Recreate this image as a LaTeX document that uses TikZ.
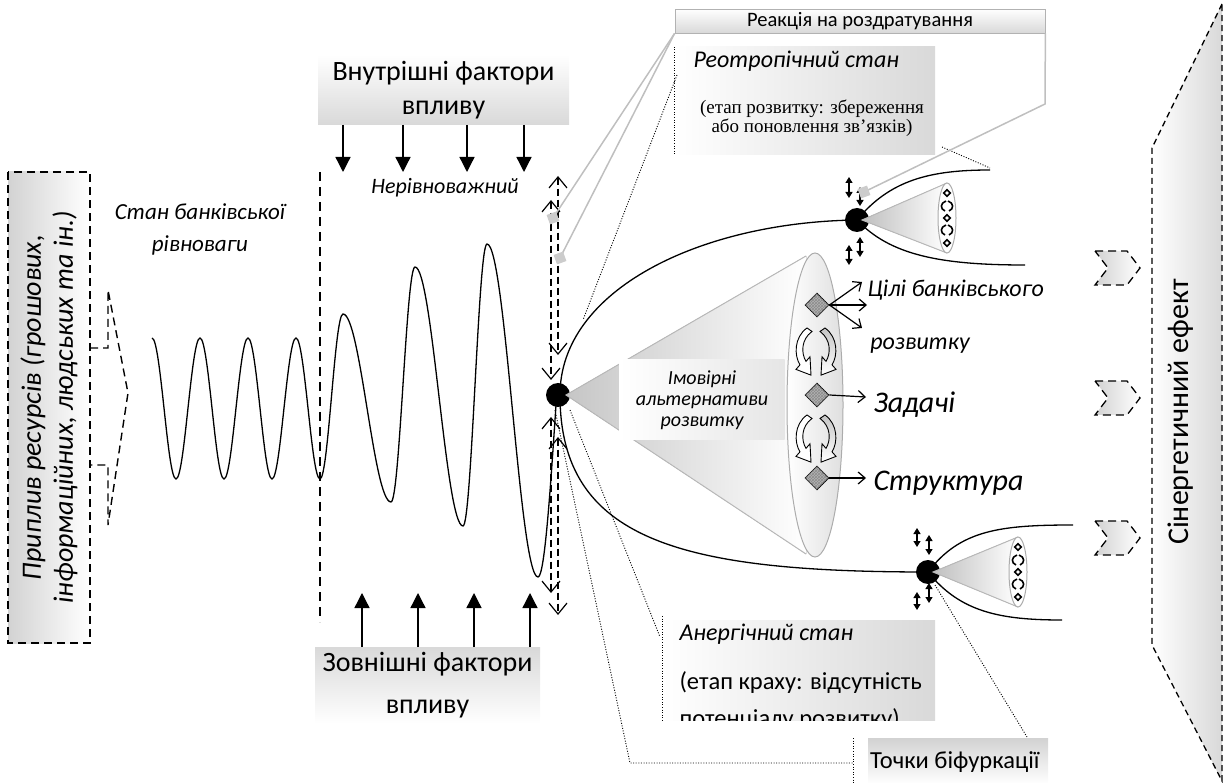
\documentclass[tikz,border=0pt]{standalone}
\usepackage{fontspec}
\setmainfont{Carlito}
\newfontfamily\tms{Liberation Serif}
\usetikzlibrary{arrows.meta,shapes.geometric,patterns}
\newcommand\fsz[2]{\fontsize{#1}{#2}\selectfont}
\begin{document}
\begin{tikzpicture}[x=1pt,y=-1pt,
  lbox/.style={draw, line width=1.4pt, dash pattern=on 8pt off 5pt},
  wave/.style={line width=1.3pt},
  vdash/.style={line width=1.4pt, dash pattern=on 7pt off 4pt},
  barb/.style={{Straight Barb[length=11pt,width=18pt,line width=1.2pt]}-{Straight Barb[length=11pt,width=18pt,line width=1.2pt]}},
  farrow/.style={line width=1.3pt, -{Triangle[width=15pt,length=15pt]}},
  oarrow/.style={line width=1.2pt, -{Straight Barb[length=7pt,width=12pt,line width=1.2pt]}},
  dbl/.style={line width=1.2pt, {Triangle[width=7pt,length=6pt]}-{Triangle[width=7pt,length=6pt]}},
  lead/.style={draw=gray!50, line width=1.5pt},
  sq/.style={fill=gray!40, minimum size=10pt, inner sep=0pt, rotate=20},
  dots/.style={line width=0.9pt, dash pattern=on 1pt off 1.6pt},
  env/.style={line width=1.3pt},
  diam/.style={diamond, draw, line width=0.9pt, fill=gray!60, postaction={pattern=crosshatch, pattern color=gray!90}, minimum size=24pt, inner sep=0pt},
  coneline/.style={draw=gray!55, line width=1pt},
  carrow/.pic={\path[draw, line width=0.9pt, pic actions] (1,0) .. controls (-12,8) and (-12,24) .. (-6,32) -- (-10,36) -- (5,41) -- (4,25) -- (0,29) .. controls (-5,22) and (-5,10) .. (6,3) -- cycle;},
  minicurl/.pic={\draw[line width=1.6pt] (2,-5) .. controls (-4,-3) and (-4,3) .. (1,5);}
]
\useasboundingbox (0,0) rectangle (1227,783);

% ---------- right: synergy ----------
\path[draw, line width=1.3pt, dash pattern=on 6pt off 4pt, left color=white, right color=gray!30]
  (1222,4) -- (1152,148) -- (1152,645) -- (1222,781) -- cycle;
\node[rotate=90, font=\fsz{30}{34}] (syn) at (1181,412) {Сінергетичний ефект};
\foreach \yy in {268,398,538}
  \path[draw, line width=1.3pt, dash pattern=on 8pt off 5pt, left color=gray!35, right color=white]
    (1095,{\yy-17}) -- (1127,{\yy-17}) -- (1140,\yy) -- (1127,{\yy+17}) -- (1095,{\yy+17}) -- (1108,\yy) -- cycle;

% ---------- left: resources ----------
\path[lbox, left color=gray!35, right color=white] (8,172) rectangle (90,643);
\node[rotate=90, align=center, font=\fsz{28}{32}\itshape, inner sep=0pt] (res) at (49,407.5)
  {Приплив ресурсів (грошових,\\інформаційних, людських та ін.)};
\draw[lbox] (90,348) -- (108,348) -- (108,290) -- (128,393) -- (108,525) -- (108,465) -- (90,465);

% ---------- equilibrium texts ----------
\node[font=\fsz{23}{32}\itshape, align=center] (eq) at (200,229) {Стан банківської\\рівноваги};
\node[font=\fsz{22}{26}\itshape] (neq) at (445,188) {Нерівноважний};

% ---------- wave ----------
\draw[wave] (152,338) cos (164,408) sin (176,479) cos (188,408) sin (200,338)
  cos (212,408) sin (224,479) cos (236,408) sin (248,338) cos (260,408) sin (272,479)
  cos (284,408) sin (296,338) cos (308,408) sin (320,479) cos (331.5,396.5) sin (343,314)
  cos (367,408) sin (391,502) cos (403,384.5) sin (415,267) cos (439,396.5) sin (463,526)
  cos (475,385) sin (487,244) cos (512.5,410.5) sin (538,577) cos (556,405);
\draw[line width=1.4pt, dash pattern=on 9pt off 6pt] (320,172) -- (320,622);

% ---------- factor boxes ----------
\node[top color=white, bottom color=gray!30, minimum width=251pt, minimum height=70pt, inner sep=0pt,
  align=center, font=\fsz{28}{34}] (inner) at (443.5,90) {Внутрішні фактори\\впливу};
\foreach \xx in {343,403,467,524} \draw[farrow] (\xx,125) -- (\xx,172);
\node[top color=gray!30, bottom color=white, minimum width=225pt, minimum height=76pt, inner sep=0pt,
  align=center, font=\fsz{28}{42}] (outer) at (427.5,685) {Зовнішні фактори\\впливу};
\foreach \xx in {362,418,474,530} \draw[farrow] (\xx,647) -- (\xx,593);

% ---------- dashed double arrows ----------
\draw[vdash, barb] (551,200) -- (551,380);
\draw[vdash, barb] (558,176) -- (558,355);
\draw[vdash, barb] (551,417) -- (551,593);
\draw[vdash, barb] (558,437) -- (558,615);

% ---------- text boxes (top) ----------
\node[draw=gray!60, line width=0.8pt, top color=white, bottom color=gray!30, minimum width=370pt,
  minimum height=24pt, inner sep=0pt, font=\fsz{20.5}{22}] (react) at (860,21) {Реакція на роздратування};
\node[minimum width=260pt, minimum height=108pt, inner sep=0pt, left color=white, right color=gray!30] (reo) at (805,101) {};
\draw[dots] (reo.north west) -- (reo.south west);
\node[anchor=west, font=\fsz{24}{28}\itshape] (reot) at (690,61) {Реотропічний стан};
\node[font=\tms\fsz{19}{17}, align=center] (reod) at (812,118) {(етап розвитку: збереження\\або поновлення зв’язків)};

% ---------- text boxes (bottom) ----------
\node[minimum width=273pt, minimum height=100pt, inner sep=0pt, left color=white, right color=gray!30] (anr) at (798.5,670) {};
\draw[dots] (662,616) -- (662,722);
\node[anchor=west, font=\fsz{24}{28}\itshape] (anrt) at (676,634) {Анергічний стан};
\node[anchor=west, font=\fsz{24.5}{28}] (anrd) at (676,683) {(етап краху: відсутність};
\begin{scope}
  \clip (662,620) rectangle (935,720);
  \node[anchor=base west, font=\fsz{24.5}{28}] (anre) at (676,726) {потенціалу розвитку)};
\end{scope}
\node[top color=gray!35, bottom color=white, minimum width=180pt, minimum height=46pt, inner sep=0pt] (bif) at (958,761) {};
\node[anchor=west, font=\fsz{24.5}{28}, inner sep=0pt] (bift) at (870,762) {Точки біфуркації};

% ---------- dotted leaders ----------
\coordinate (B0) at (558,395);
\coordinate (B1) at (857,220);
\coordinate (B2) at (928,572);
\draw[dots] (677,75) -- (583,320);
\draw[dots] (942,147) -- (990,168);
\draw[dots] (570,410) -- (660,637);
\draw[dots] (555,410) -- (630,763) -- (853,763);
\draw[dots] (853,738) -- (853,783);
\draw[dots] (935,585) -- (1027,737);

% ---------- envelope curves ----------
\draw[env] (560,395) .. controls (560,290) and (700,222) .. (B1);
\draw[env] (560,395) .. controls (560,540) and (680,572) .. (B2);
\draw[env] (B1) .. controls (890,180) and (930,170) .. (990,170);
\draw[env] (B1) .. controls (890,255) and (940,265) .. (1025,265);
\draw[env] (B2) .. controls (960,530) and (1000,525) .. (1073,525);
\draw[env] (B2) .. controls (960,612) and (1000,620) .. (1062,620);

% ---------- main bifurcation ----------
\fill (B0) circle (12pt);
\fill[left color=gray!45, right color=white] (566,395) -- (806,256) -- (806,554) -- cycle;
\draw[coneline] (806,256) -- (566,395) -- (806,554);
\node[left color=white, right color=gray!20, minimum width=165pt, minimum height=80pt, inner sep=0pt,
  align=center, font=\fsz{20}{21}\itshape] (alt) at (702,400) {Імовірні\\альтернативи\\розвитку};
\draw[draw=gray!65, line width=1pt, left color=white, right color=gray!25] (815,405) ellipse (28pt and 152pt);

\node[diam] (d1) at (817,305) {};
\node[diam] (d2) at (817,395) {};
\node[diam] (d3) at (817,478) {};
\pic[fill=white, yscale=1.15] at (806,328) {carrow};
\pic[top color=gray!45, bottom color=white, xscale=-1, yscale=1.15] at (826,328) {carrow};
\pic[fill=white, yscale=1.15] at (806,415) {carrow};
\pic[top color=gray!45, bottom color=white, xscale=-1, yscale=1.15] at (826,415) {carrow};

\draw[oarrow] (d1.east) -- (862,282);
\draw[oarrow] (d1.east) -- (867,305);
\draw[oarrow] (d1.east) -- (862,328);
\draw[oarrow] (d2.east) -- (866,397);
\draw[oarrow] (d3.east) -- (866,478);
\node[anchor=west, font=\fsz{24}{28}\itshape] (goal) at (864,290) {Цілі банківського};
\node[font=\fsz{24}{28}\itshape] (goal2) at (920,346) {розвитку};
\node[anchor=west, font=\fsz{30}{34}\itshape] (task) at (870,405) {Задачі};
\node[anchor=west, font=\fsz{30}{34}\itshape] (strc) at (870,483) {Структура};

% ---------- small bifurcations ----------
\foreach \P/\cx/\cy in {B1/947/218, B2/1018/572}{
  \fill (\P) circle (12pt);
  \fill[left color=gray!50, right color=white] ([xshift=5pt]\P) -- (\cx,{\cy-35}) -- (\cx,{\cy+35}) -- cycle;
  \draw[coneline] (\cx,{\cy-35}) -- ([xshift=5pt]\P) -- (\cx,{\cy+35});
  \draw[draw=gray!65, line width=1pt, fill=white] (\cx,\cy) ellipse (9pt and 35pt);
  \foreach \dy in {-25,0,25}
    \node[diamond, draw, line width=1.6pt, fill=white, minimum size=7pt, inner sep=0pt] at (\cx,{\cy+\dy}) {};
  \pic at ({\cx-3},{\cy-12}) {minicurl};
  \pic[xscale=-1] at ({\cx+3},{\cy-12}) {minicurl};
  \pic at ({\cx-3},{\cy+12}) {minicurl};
  \pic[xscale=-1] at ({\cx+3},{\cy+12}) {minicurl};
}

% ---------- small double arrows ----------
\draw[dbl] (849,177) -- (849,198);
\draw[dbl] (860,187) -- (860,206);
\draw[dbl] (849,245) -- (849,265);
\draw[dbl] (860,237) -- (860,257);
\draw[dbl] (917,528) -- (917,547);
\draw[dbl] (929,535) -- (929,555);
\draw[dbl] (917,592) -- (917,610);
\draw[dbl] (929,583) -- (929,603);

% ---------- gray leaders ----------
\coordinate (s1) at (553,218);
\coordinate (s2) at (560,258);
\coordinate (s3) at (864,192);
\draw[lead] (react.south west) -- (s1);
\draw[lead] (react.south west) -- (s2);
\draw[lead] (react.south east) -- (1045,104) -- (s3);
\node[sq] (sq1) at (s1) {};
\node[sq] (sq2) at (s2) {};
\node[sq] (sq3) at (s3) {};
\end{tikzpicture}
\end{document}
